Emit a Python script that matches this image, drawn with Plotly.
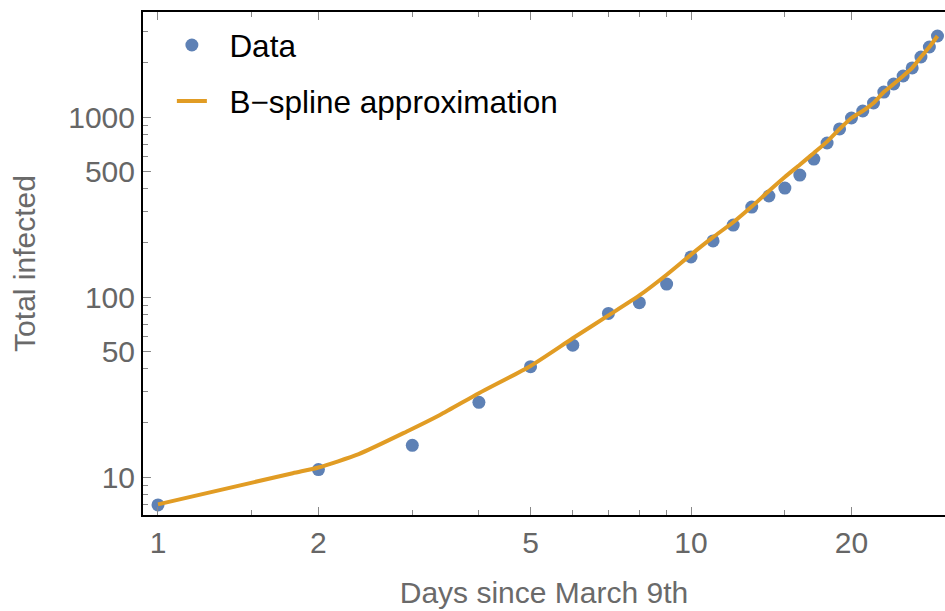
import plotly.graph_objects as go

# Data
days = list(range(1, 30))
infected = [7, 11, 15, 26, 41, 54, 81, 93, 118, 167, 205, 251, 316, 364, 403,
            476, 584, 717, 858, 987, 1080, 1196, 1376, 1525, 1689, 1873, 2154, 2448, 2818]

# B-spline approximation curve samples
spline_days = [1, 1.79, 2.0, 2.38, 2.93, 3.38, 4.0, 5.0, 6, 7, 8, 9, 10, 11, 12, 13, 14,
               15, 16, 17, 18, 19, 20, 21, 22, 23, 24, 25, 26, 27, 28, 29]
spline_values = [7.05, 10.5, 11.3, 13.4, 17.9, 22.1, 29.2, 41.4, 59, 79, 102, 133, 172,
                 215, 260, 318, 388, 464, 543, 631, 730, 858, 987, 1080, 1196, 1376,
                 1525, 1689, 1873, 2154, 2448, 2818]

x_major = [1, 2, 5, 10, 20]
x_minor = [1.5, 3, 4, 6, 7, 8, 9, 15, 30]
y_major = [10, 50, 100, 500, 1000]
y_minor = [6, 7, 8, 9, 20, 30, 40, 60, 70, 80, 90, 200, 300, 400, 600, 700, 800, 900, 2000, 3000]

FONT = "Liberation Sans"
BLUE = "#5E81B5"
ORANGE = "#E19C24"
PAD = "\u00a0\u00a0"

fig = go.Figure()
fig.add_trace(go.Scatter(
    x=days, y=infected, mode="markers", name=PAD + "Data",
    marker=dict(color=BLUE, size=13), legendgroup="a"))
fig.add_trace(go.Scatter(
    x=spline_days, y=spline_values, mode="lines", name=PAD + "B\u2212spline approximation",
    line=dict(color=ORANGE, width=4, shape="spline", smoothing=0.6), legendgroup="b"))

fig.update_layout(
    width=945, height=611,
    margin=dict(l=143, r=0, t=12, b=96),
    plot_bgcolor="white", paper_bgcolor="white",
    font=dict(family=FONT),
    showlegend=True,
    legend=dict(x=0.036, y=0.988, xanchor="left", yanchor="top",
                font=dict(size=31.5, color="black", family=FONT),
                bgcolor="rgba(0,0,0,0)", tracegroupgap=12),
    xaxis=dict(
        type="log", range=[-0.0281, 1.4765],
        tickmode="array", tickvals=x_major, ticktext=[str(v) for v in x_major],
        ticks="inside", ticklen=8, tickwidth=1, tickcolor="#888888",
        minor=dict(tickmode="array", tickvals=x_minor, ticks="inside", ticklen=5,
                   tickwidth=1, tickcolor="#888888", showgrid=False),
        showline=True, linecolor="black", linewidth=2, mirror="ticks",
        showgrid=False, zeroline=False,
        tickfont=dict(size=30, color="#666666", family=FONT),
        title=dict(text="Days since March 9th", font=dict(size=30, color="#6a6a6a", family=FONT),
                   standoff=24),
    ),
    yaxis=dict(
        type="log", range=[0.7889, 3.5833],
        tickmode="array", tickvals=y_major, ticktext=[str(v) for v in y_major],
        ticks="inside", ticklen=8, tickwidth=1, tickcolor="#888888",
        minor=dict(tickmode="array", tickvals=y_minor, ticks="inside", ticklen=5,
                   tickwidth=1, tickcolor="#888888", showgrid=False),
        showline=True, linecolor="black", linewidth=2, mirror=False,
        showgrid=False, zeroline=False,
        tickfont=dict(size=30, color="#666666", family=FONT),
        title=dict(text="Total infected", font=dict(size=30, color="#6a6a6a", family=FONT),
                   standoff=24),
    ),
)

fig.write_html("out.html")
